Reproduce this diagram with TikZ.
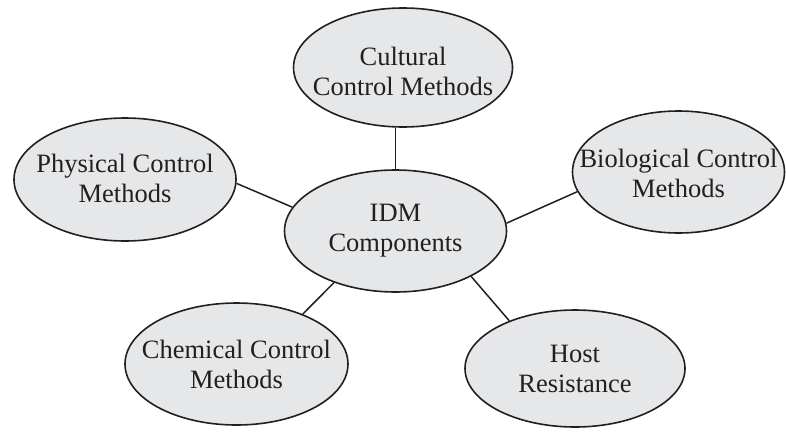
\documentclass[tikz,border=0pt]{standalone}
\usepackage{fontspec}
\setmainfont{Liberation Serif}
\usetikzlibrary{shapes.geometric}
\definecolor{bubblefill}{RGB}{230,231,232}
\definecolor{ink}{RGB}{35,31,32}
\tikzset{
  bubble/.style={ellipse, draw=ink, fill=bubblefill, line width=1.6pt, inner sep=0pt},
  caption/.style={align=center, inner sep=0pt, text=ink,
    font=\fontsize{26.5}{30}\selectfont},
  link/.style={draw=ink, line width=1.5pt}
}
\begin{document}
\begin{tikzpicture}[x=1pt, y=-1pt]
  \useasboundingbox (0,0) rectangle (786,431);

  % centre and the five surrounding components
  \node[bubble, minimum width=222pt, minimum height=122pt,
        label={[caption]center:{IDM\\Components}}] (idm) at (395.5,231) {};
  \node[bubble, minimum width=219pt, minimum height=119pt,
        label={[caption, yshift=-3.5pt]center:{Cultural\\Control Methods}}] (cult) at (403,67.5) {};
  \node[bubble, minimum width=222pt, minimum height=123pt,
        label={[caption, yshift=1.5pt]center:{Physical Control\\Methods}}] (phys) at (125,179.5) {};
  \node[bubble, minimum width=212pt, minimum height=122pt,
        label={[caption, yshift=-1pt]center:{Biological Control\\Methods}}] (bio) at (678.5,172) {};
  \node[bubble, minimum width=223pt, minimum height=122pt,
        label={[caption]center:{Chemical Control\\Methods}}] (chem) at (236.5,364) {};
  \node[bubble, minimum width=220pt, minimum height=117pt,
        label={[caption]center:{Host\\Resistance}}] (host) at (575,368.5) {};

  % spokes
  \draw[link] (idm.north) -- (idm.north |- cult.south);
  \draw[link] (phys.358) -- (idm.167);
  \draw[link] (bio.191) -- (idm.4);
  \draw[link] (chem.37) -- (idm.220);
  \draw[link] (host.144) -- (idm.329);
\end{tikzpicture}
\end{document}
